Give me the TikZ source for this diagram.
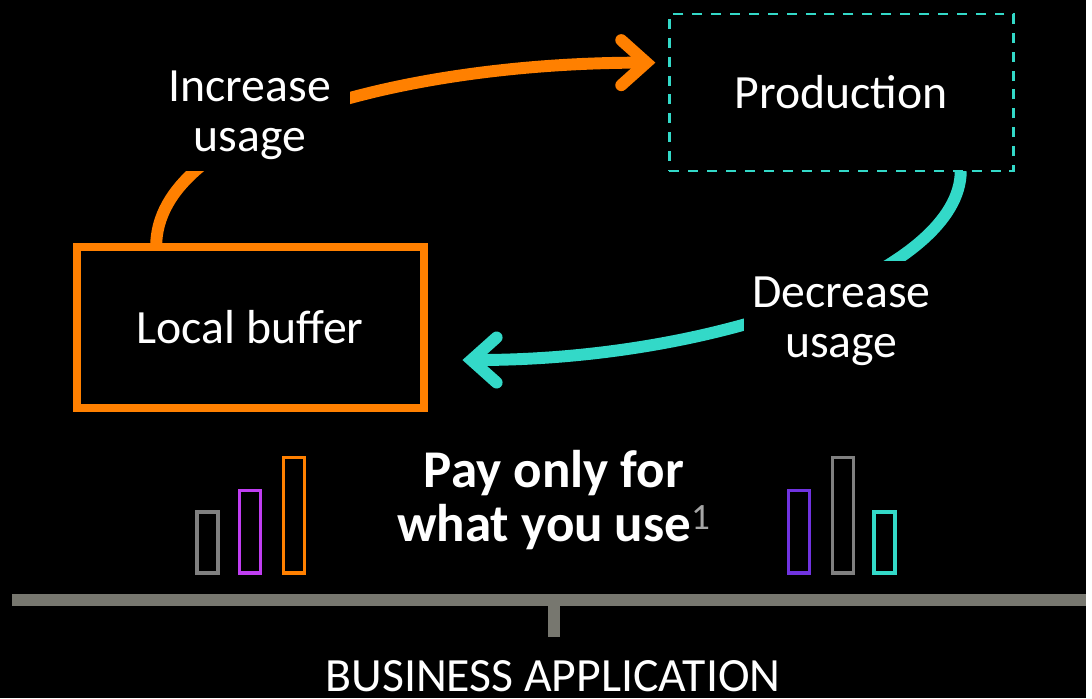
\documentclass[tikz,border=0pt]{standalone}
\usepackage{fontspec}
\setmainfont{Carlito}
\usetikzlibrary{arrows.meta}

\definecolor{bufOrange}{HTML}{FF8000}
\definecolor{prodTeal}{HTML}{33D9C8}
\definecolor{axisGray}{HTML}{77776F}
\definecolor{barGray}{HTML}{808080}
\definecolor{barPurple}{HTML}{C03EF2}
\definecolor{barViolet}{HTML}{7033E0}
\definecolor{supGray}{HTML}{A6A6A6}

\begin{document}
\begin{tikzpicture}[x=0.75pt, y=0.75pt,
    every node/.style={text=white, font=\fontsize{36}{38}\selectfont, align=center, inner sep=0pt},
    flow/.style={line width=9pt, line cap=butt},
    tip/.style={-{Straight Barb[length=19pt, width=34pt, line cap=round, line join=miter]}},
    bar/.style={line width=2.6pt}]

    % background and margins
    \fill[black] (0,0) rectangle (1092,702);

    % connector ends
    \coordinate (bufOut) at (157,454);
    \coordinate (prodIn) at (659,639);
    \coordinate (prodOut) at (966,530);
    \coordinate (bufIn) at (465,340);

    % increase usage
    \draw[flow, bufOrange, tip] (bufOut) .. controls +(0,120) and +(-250,0) .. (prodIn);

    % decrease usage
    \draw[flow, prodTeal, tip] (prodOut) .. controls +(0,-100) and +(260,0) .. (bufIn);

    % boxes and labels
    \node[draw=bufOrange, line width=6pt, minimum width=261.75pt, minimum height=121.5pt] (buf) at (251.5,373) {Local buffer};
    \node[draw=prodTeal, line width=1.9pt, dash pattern=on 7.5pt off 6.75pt, minimum width=259.5pt, minimum height=118.5pt] (prod) at (846,609) {Production};
    \node[fill=black, minimum width=151.5pt, minimum height=84pt] (inc) at (251,586) {Increase\\usage};
    \node[fill=black, minimum width=147pt, minimum height=91.5pt] (dec) at (846,379) {Decrease\\usage};
    \node[font=\fontsize{40}{41}\selectfont\bfseries] (pay) at (557,199) {Pay only for\\what you use\textsuperscript{\mdseries\color{supGray}1}};
    \node[anchor=base, text depth=0pt] (biz) at (556,7) {BUSINESS APPLICATION};

    % usage bars
    \draw[bar, barGray] (198,126) rectangle (219,187);
    \draw[bar, barPurple] (241,126) rectangle (262,209);
    \draw[bar, bufOrange] (285,126) rectangle (306,242);
    \draw[bar, barViolet] (793,126) rectangle (814,209);
    \draw[bar, barGray] (837,126) rectangle (858,242);
    \draw[bar, prodTeal] (879,126) rectangle (900,187);

    % application axis
    \coordinate (axL) at (12,99);
    \coordinate (axR) at (1092,99);
    \coordinate (stemTop) at (557,99);
    \coordinate (stemEnd) at (557,61);
    \draw[axisGray, line width=9pt] (axL) -- (axR);
    \draw[axisGray, line width=9pt] (stemTop) -- (stemEnd);

\end{tikzpicture}
\end{document}
